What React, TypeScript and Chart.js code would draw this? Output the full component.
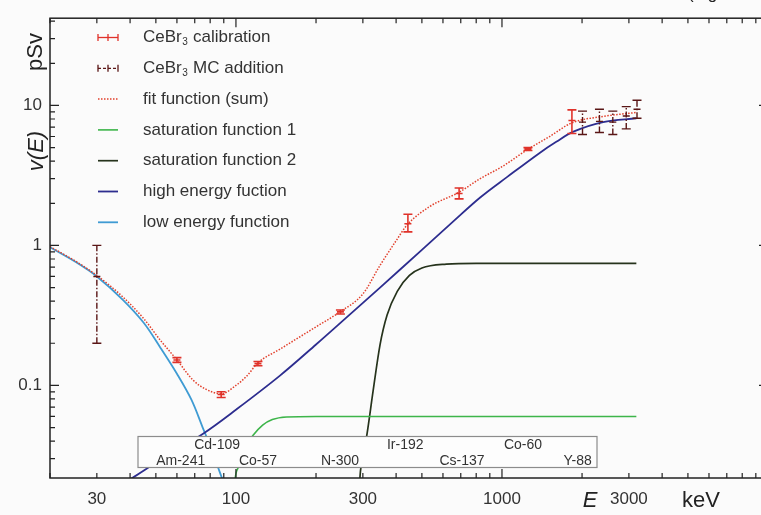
import React, { useEffect, useRef } from 'react';
import { Chart, registerables } from 'chart.js';

Chart.register(...registerables);

const FONT = "'Liberation Sans', Arial, Helvetica, sans-serif";

// ---------------- data ----------------
// low energy function
const lowE = [20, 25, 30, 37.5, 45, 52, 60, 68, 75, 80, 85, 90, 95];
const lowV = [0.97, 0.76, 0.6, 0.41, 0.28, 0.186, 0.121, 0.079, 0.05, 0.037, 0.027, 0.02, 0.0146];

// high energy function
const highE = [36, 41, 50, 75, 100, 146, 200, 260, 348, 500, 650, 828, 1050, 1390, 1600, 1856, 2400, 3200];
const highV = [0.019, 0.022, 0.028, 0.045, 0.067, 0.117, 0.196, 0.305, 0.5, 0.93, 1.46, 2.2, 3.1, 4.6, 5.5, 6.5, 7.6, 8.1];

// saturation function 1
const sat1E = [97, 99, 102, 108, 116, 126, 137, 155, 200, 3200];
const sat1V = [0.008, 0.02, 0.026, 0.036, 0.044, 0.052, 0.057, 0.0595, 0.06, 0.06];

// saturation function 2
const sat2E = [288, 293, 300, 311, 328, 348, 370, 404, 449, 500, 618, 800, 3200];
const sat2V = [0.012, 0.023, 0.03, 0.045, 0.092, 0.195, 0.318, 0.47, 0.61, 0.69, 0.735, 0.745, 0.745];

// fit function (sum)
const fitE = [20, 25, 30, 37.5, 45, 52, 60, 69, 77, 88, 100, 110, 121, 146, 200, 246, 300, 348, 400, 440, 536, 690, 828, 1000, 1250, 1500, 1830, 2400, 3200];
const fitV = [0.98, 0.77, 0.61, 0.43, 0.3, 0.21, 0.152, 0.109, 0.094, 0.087, 0.1, 0.117, 0.145, 0.181, 0.262, 0.335, 0.45, 0.72, 1.08, 1.4, 1.9, 2.4, 3.0, 3.65, 4.85, 5.95, 7.5, 8.35, 8.9];

// CeBr3 calibration points with error bars
const calE = [60, 88, 121, 247, 443, 690, 1252, 1832];
const calV = [0.152, 0.086, 0.143, 0.335, 1.43, 2.35, 4.88, 7.8];
const calLow = [0.146, 0.082, 0.138, 0.324, 1.25, 2.15, 4.76, 6.3];
const calHigh = [0.158, 0.09, 0.148, 0.346, 1.67, 2.57, 5.0, 9.3];

// CeBr3 MC addition points with error bars
const mcE = [30, 2008, 2325, 2610, 2932, 3218];
const mcV = [0.6, 7.6, 7.7, 7.6, 8.4, 9.4];
const mcLow = [0.2, 6.2, 6.4, 6.2, 6.8, 8.1];
const mcHigh = [1.0, 9.1, 9.4, 9.1, 9.8, 10.9];

// source labels in the inset box
const isoNames = ['Am-241', 'Cd-109', 'Co-57', 'N-300', 'Ir-192', 'Cs-137', 'Co-60', 'Y-88'];
const isoE = [62, 85, 121, 246, 433, 708, 1200, 1924];
const isoRow = [2, 1, 2, 2, 1, 2, 1, 2];

// axis ticks
const xMinorTicks = [20, 30, 40, 50, 60, 70, 80, 90, 200, 300, 400, 500, 600, 700, 800, 900, 2000, 3000, 4000, 5000, 6000, 7000, 8000, 9000];
const xMajorTicks = [100, 1000, 10000];
const xLabels = [30, 100, 300, 1000, 3000];
const yMinorTicks = [0.03, 0.04, 0.05, 0.06, 0.07, 0.08, 0.09, 0.2, 0.3, 0.4, 0.5, 0.6, 0.7, 0.8, 0.9, 2, 3, 4, 5, 6, 7, 8, 9, 20, 30, 40];
const yMajorTicks = [0.1, 1, 10];
const yLabels = [0.1, 1, 10];

const X_MIN = 20;
const X_MAX = 10000;
const Y_MIN = 0.0218;
const Y_MAX = 42;

const pts = (xs: number[], ys: number[]) => xs.map((x, i) => ({ x, y: ys[i] }));

const BG = '#fbfbfb';
const TEXT = '#333333';

const decoPlugin = {
  id: 'deco',
  beforeDraw(chart: any) {
    const { ctx, width, height } = chart;
    ctx.save();
    ctx.fillStyle = BG;
    ctx.fillRect(0, 0, width, height);
    ctx.restore();
  },
  afterDatasetsDraw(chart: any) {
    const { ctx, chartArea, scales } = chart;
    const xs = scales.x;
    const ys = scales.y;
    // error bars
    chart.data.datasets.forEach((ds: any) => {
      if (!ds.errLow) return;
      ctx.save();
      ctx.strokeStyle = ds.borderColor;
      ctx.lineWidth = ds.errDash ? 1.4 : 1.6;
      ds.data.forEach((p: any, i: number) => {
        const px = xs.getPixelForValue(p.x);
        const py = ys.getPixelForValue(p.y);
        const lo = ys.getPixelForValue(ds.errLow[i]);
        const hi = ys.getPixelForValue(ds.errHigh[i]);
        ctx.setLineDash(ds.errDash || []);
        ctx.beginPath();
        ctx.moveTo(px, lo);
        ctx.lineTo(px, hi);
        ctx.stroke();
        ctx.setLineDash([]);
        ctx.beginPath();
        ctx.moveTo(px - 4.5, lo);
        ctx.lineTo(px + 4.5, lo);
        ctx.moveTo(px - 4.5, hi);
        ctx.lineTo(px + 4.5, hi);
        ctx.moveTo(px - 3.5, py);
        ctx.lineTo(px + 3.5, py);
        ctx.stroke();
      });
      ctx.restore();
    });
    // inset box with source names
    const boxL = chartArea.left + 88;
    const boxR = chartArea.left + 547;
    const boxB = chartArea.bottom - 10.5;
    const boxT = boxB - 31;
    ctx.save();
    ctx.fillStyle = '#fdfdfd';
    ctx.strokeStyle = '#8c8c8c';
    ctx.lineWidth = 1.2;
    ctx.fillRect(boxL, boxT, boxR - boxL, boxB - boxT);
    ctx.strokeRect(boxL, boxT, boxR - boxL, boxB - boxT);
    ctx.fillStyle = TEXT;
    ctx.font = `14px ${FONT}`;
    ctx.textAlign = 'center';
    ctx.textBaseline = 'middle';
    isoNames.forEach((n, i) => {
      const px = xs.getPixelForValue(isoE[i]);
      const py = isoRow[i] === 1 ? boxT + 9 : boxB - 6.5;
      ctx.fillText(n, px, py);
    });
    ctx.restore();
  },
  afterDraw(chart: any) {
    const { ctx, chartArea, scales } = chart;
    const { left, right, top, bottom } = chartArea;
    const xs = scales.x;
    const ys = scales.y;
    ctx.save();
    // frame
    ctx.strokeStyle = '#222222';
    ctx.lineWidth = 1.5;
    ctx.strokeRect(left, top, right - left, bottom - top);
    // inward ticks
    ctx.lineWidth = 1.2;
    ctx.beginPath();
    const xt = (v: number, len: number) => {
      const px = xs.getPixelForValue(v);
      ctx.moveTo(px, bottom);
      ctx.lineTo(px, bottom - len);
      ctx.moveTo(px, top);
      ctx.lineTo(px, top + len);
    };
    const yt = (v: number, len: number) => {
      const py = ys.getPixelForValue(v);
      ctx.moveTo(left, py);
      ctx.lineTo(left + len, py);
      ctx.moveTo(right, py);
      ctx.lineTo(right - len, py);
    };
    xMinorTicks.forEach((v) => xt(v, 5));
    xMajorTicks.forEach((v) => xt(v, 9));
    yMinorTicks.forEach((v) => yt(v, 5));
    yMajorTicks.forEach((v) => yt(v, 9));
    ctx.stroke();

    // legend
    const lx0 = 98;
    const lx1 = 118;
    const tx = 143;
    chart.data.datasets.forEach((ds: any, i: number) => {
      const y = 37.5 + i * 30.8;
      ctx.save();
      ctx.strokeStyle = ds.borderColor;
      if (ds.errLow) {
        ctx.lineWidth = 1.3;
        ctx.setLineDash(ds.errDash ? [3, 2] : []);
        ctx.beginPath();
        ctx.moveTo(lx0, y);
        ctx.lineTo(lx1, y);
        ctx.stroke();
        ctx.setLineDash([]);
        ctx.beginPath();
        ctx.moveTo(lx0, y - 3.5);
        ctx.lineTo(lx0, y + 3.5);
        ctx.moveTo(lx1, y - 3.5);
        ctx.lineTo(lx1, y + 3.5);
        ctx.moveTo((lx0 + lx1) / 2, y - 3.5);
        ctx.lineTo((lx0 + lx1) / 2, y + 3.5);
        ctx.stroke();
      } else {
        ctx.lineWidth = ds.borderWidth;
        ctx.setLineDash(ds.borderDash || []);
        ctx.beginPath();
        ctx.moveTo(lx0, y);
        ctx.lineTo(lx1, y);
        ctx.stroke();
      }
      ctx.restore();
      // text with subscript
      ctx.fillStyle = TEXT;
      ctx.textAlign = 'left';
      ctx.textBaseline = 'middle';
      const parts = String(ds.label).split('₃');
      ctx.font = `17px ${FONT}`;
      let x = tx;
      ctx.fillText(parts[0], x, y);
      x += ctx.measureText(parts[0]).width;
      if (parts.length > 1) {
        ctx.font = `10px ${FONT}`;
        ctx.fillText('3', x + 0.5, y + 5);
        x += ctx.measureText('3').width + 1;
        ctx.font = `17px ${FONT}`;
        ctx.fillText(parts[1], x, y);
      }
    });

    // axis titles
    ctx.fillStyle = '#222222';
    ctx.textAlign = 'center';
    ctx.textBaseline = 'middle';
    ctx.font = `italic 22px ${FONT}`;
    ctx.fillText('E', 590, 501);
    ctx.font = `22px ${FONT}`;
    ctx.fillText('keV', 701, 501);
    ctx.save();
    ctx.translate(36, 52);
    ctx.rotate(-Math.PI / 2);
    ctx.font = `22px ${FONT}`;
    ctx.fillText('pSv', 0, 0);
    ctx.restore();
    ctx.save();
    ctx.translate(37, 151);
    ctx.rotate(-Math.PI / 2);
    ctx.font = `italic 22px ${FONT}`;
    ctx.fillText('v(E)', 0, 0);
    ctx.restore();
    // cut-off text of the page above
    ctx.textAlign = 'left';
    ctx.textBaseline = 'alphabetic';
    ctx.font = `17px ${FONT}`;
    ctx.fillText('(Fig', 688, -1);
    ctx.restore();
  },
};

export default function App() {
  const ref = useRef<HTMLCanvasElement | null>(null);

  useEffect(() => {
    if (!ref.current) return;
    const lineDs = (label: string, xs: number[], ys: number[], color: string, width: number, dash?: number[], smooth?: boolean) => ({
      type: 'line',
      label,
      data: pts(xs, ys),
      borderColor: color,
      backgroundColor: color,
      borderWidth: width,
      borderDash: dash || [],
      pointRadius: 0,
      fill: false,
      cubicInterpolationMode: smooth ? 'default' : 'monotone',
      tension: smooth ? 0.35 : 0,
    });
    const chart = new Chart(ref.current, {
      type: 'line',
      data: {
        datasets: [
          {
            type: 'scatter',
            label: 'CeBr₃ calibration',
            data: pts(calE, calV),
            borderColor: '#e0322a',
            backgroundColor: '#e0322a',
            pointRadius: 0,
            showLine: false,
            errLow: calLow,
            errHigh: calHigh,
          } as any,
          {
            type: 'scatter',
            label: 'CeBr₃ MC addition',
            data: pts(mcE, mcV),
            borderColor: '#5a1616',
            backgroundColor: '#5a1616',
            pointRadius: 0,
            showLine: false,
            errLow: mcLow,
            errHigh: mcHigh,
            errDash: [6, 2, 1.5, 2],
          } as any,
          lineDs('fit function (sum)', fitE, fitV, '#e2402c', 1.5, [1.5, 1.5]) as any,
          lineDs('saturation function 1', sat1E, sat1V, '#3db54a', 1.6) as any,
          lineDs('saturation function 2', sat2E, sat2V, '#26331c', 1.7) as any,
          lineDs('high energy fuction', highE, highV, '#2d2d8f', 1.8, undefined, true) as any,
          lineDs('low energy function', lowE, lowV, '#3f9bd3', 1.8, undefined, true) as any,
        ],
      },
      options: {
        responsive: false,
        animation: false,
        parsing: false,
        normalized: true,
        layout: { padding: { top: 8, right: 32, left: 0, bottom: 0 } },
        plugins: {
          legend: { display: false },
          tooltip: { enabled: false },
        },
        scales: {
          x: {
            type: 'logarithmic',
            min: X_MIN,
            max: X_MAX,
            grid: { display: false, drawTicks: false },
            border: { display: false },
            afterBuildTicks: (s: any) => {
              s.ticks = [...xMinorTicks, ...xMajorTicks].sort((a, b) => a - b).map((v) => ({ value: v }));
            },
            afterFit: (s: any) => {
              s.height = 37;
            },
            ticks: {
              autoSkip: false,
              maxRotation: 0,
              minRotation: 0,
              padding: 11,
              color: TEXT,
              font: { family: FONT, size: 17 },
              callback: (v: any) => (xLabels.includes(Number(v)) ? String(v) : ''),
            },
          },
          y: {
            type: 'logarithmic',
            min: Y_MIN,
            max: Y_MAX,
            grid: { display: false, drawTicks: false },
            border: { display: false },
            afterBuildTicks: (s: any) => {
              s.ticks = [...yMinorTicks, ...yMajorTicks].sort((a, b) => a - b).map((v) => ({ value: v }));
            },
            afterFit: (s: any) => {
              s.width = 50;
            },
            ticks: {
              autoSkip: false,
              padding: 8,
              color: TEXT,
              font: { family: FONT, size: 17 },
              callback: (v: any) => (yLabels.includes(Number(v)) ? String(v) : ''),
            },
          },
        },
      } as any,
      plugins: [decoPlugin],
    } as any);
    return () => chart.destroy();
  }, []);

  return (
    <div
      style={{
        position: 'fixed',
        left: 0,
        top: 0,
        width: 761,
        height: 515,
        overflow: 'hidden',
        background: BG,
      }}
    >
      <canvas ref={ref} width={800} height={515} style={{ display: 'block' }} />
    </div>
  );
}
